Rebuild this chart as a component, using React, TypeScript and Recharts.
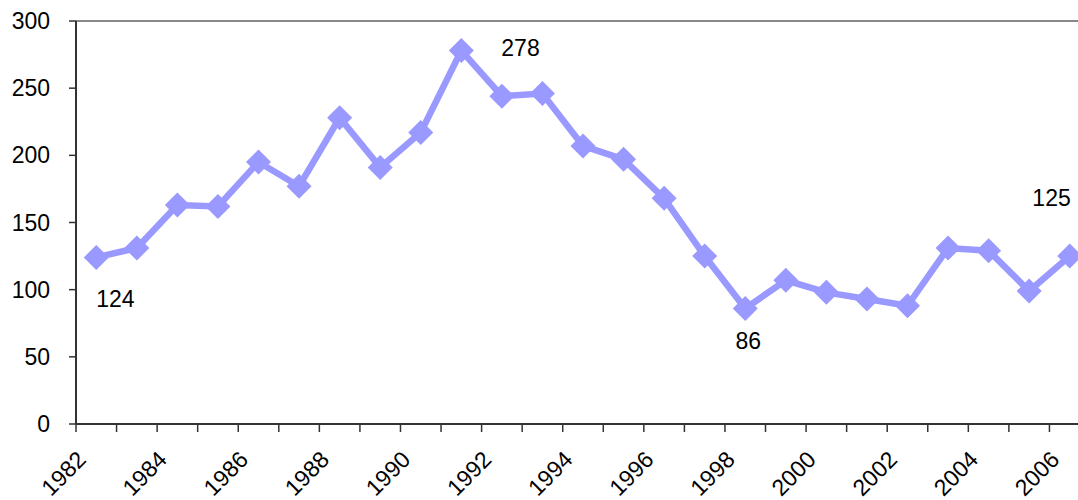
import React from "react";
import { LineChart, Line, XAxis, YAxis, ReferenceLine, LabelList } from "recharts";

const years: string[] = [
  "1982", "1983", "1984", "1985", "1986", "1987", "1988", "1989", "1990", "1991",
  "1992", "1993", "1994", "1995", "1996", "1997", "1998", "1999", "2000", "2001",
  "2002", "2003", "2004", "2005", "2006",
];
const values: number[] = [
  124, 131, 163, 162, 195, 177, 228, 191, 217, 278,
  244, 246, 207, 197, 168, 125, 86, 107, 98, 93,
  88, 131, 129, 99, 125,
];
const yTicks: number[] = [0, 50, 100, 150, 200, 250, 300];
const labeledYears: string[] = ["1982", "1991", "1998", "2006"];

const data = years.map((y, i) => ({ year: y, value: values[i] }));

const FONT = "'Liberation Sans', Arial, sans-serif";
const COLOR = "#9999FF";
const CHART_W = 1090;
const CHART_H = 500;
const LEFT = 76;
const HALF_BAND = (CHART_W - LEFT) / years.length / 2;

const XTick = (props: any) => {
  const { x, y, payload, index } = props;
  const showLabel = index % 2 === 0;
  const lx = x - 9;
  const ly = y + 37;
  return (
    <g>
      <line x1={x - HALF_BAND} y1={y} x2={x - HALF_BAND} y2={y + 8} stroke="#333" strokeWidth={1.5} />
      {showLabel && (
        <text
          x={lx}
          y={ly}
          textAnchor="end"
          transform={`rotate(-45 ${lx} ${ly})`}
          fontFamily={FONT}
          fontSize={23}
          fill="#000"
        >
          {payload.value}
        </text>
      )}
    </g>
  );
};

const Diamond = (props: any) => {
  const { cx, cy, index } = props;
  if (cx == null || cy == null) return <g key={`d-${index}`} />;
  const r = 12.5;
  return (
    <polygon
      key={`d-${index}`}
      points={`${cx},${cy - r} ${cx + r},${cy} ${cx},${cy + r} ${cx - r},${cy}`}
      fill={COLOR}
      stroke="none"
    />
  );
};

const PointLabel = (props: any) => {
  const { x, y, value, index } = props;
  const yr = years[index];
  if (!labeledYears.includes(yr)) return null;
  let tx = x, ty = y, anchor: "start" | "middle" | "end" = "start";
  if (yr === "1982") { tx = x; ty = y + 50; anchor = "start"; }
  else if (yr === "1991") { tx = x + 40; ty = y + 5; anchor = "start"; }
  else if (yr === "1998") { tx = x + 3; ty = y + 41; anchor = "middle"; }
  else if (yr === "2006") { tx = x + 1; ty = y - 50; anchor = "end"; }
  return (
    <text x={tx} y={ty} textAnchor={anchor} fontFamily={FONT} fontSize={23} fill="#000">
      {value}
    </text>
  );
};

export default function App() {
  return (
    <div style={{ position: "absolute", left: 0, top: 0, width: 1078, height: 500, overflow: "hidden", background: "#fff" }}>
      <LineChart
        width={CHART_W}
        height={CHART_H}
        data={data}
        margin={{ top: 21, right: 0, left: 0, bottom: 0 }}
      >
        <XAxis
          dataKey="year"
          type="category"
          interval={0}
          height={76}
          padding={{ left: HALF_BAND, right: HALF_BAND }}
          tickLine={false}
          tickSize={0}
          tickMargin={0}
          axisLine={{ stroke: "#333", strokeWidth: 2 }}
          tick={<XTick />}
        />
        <YAxis
          type="number"
          domain={[0, 300]}
          ticks={yTicks}
          width={LEFT}
          tickSize={7}
          tickMargin={19}
          axisLine={{ stroke: "#333", strokeWidth: 2 }}
          tickLine={{ stroke: "#333", strokeWidth: 1.5 }}
          tick={{ fontFamily: FONT, fontSize: 23, fill: "#000" }}
        />
        <ReferenceLine y={300} stroke="#888" strokeWidth={2} />
        <Line
          type="linear"
          dataKey="value"
          stroke={COLOR}
          strokeWidth={6.5}
          dot={(p: any) => <Diamond {...p} key={`dot-${p.index}`} />}
          activeDot={false}
          isAnimationActive={false}
        >
          <LabelList dataKey="value" content={<PointLabel />} />
        </Line>
      </LineChart>
    </div>
  );
}
